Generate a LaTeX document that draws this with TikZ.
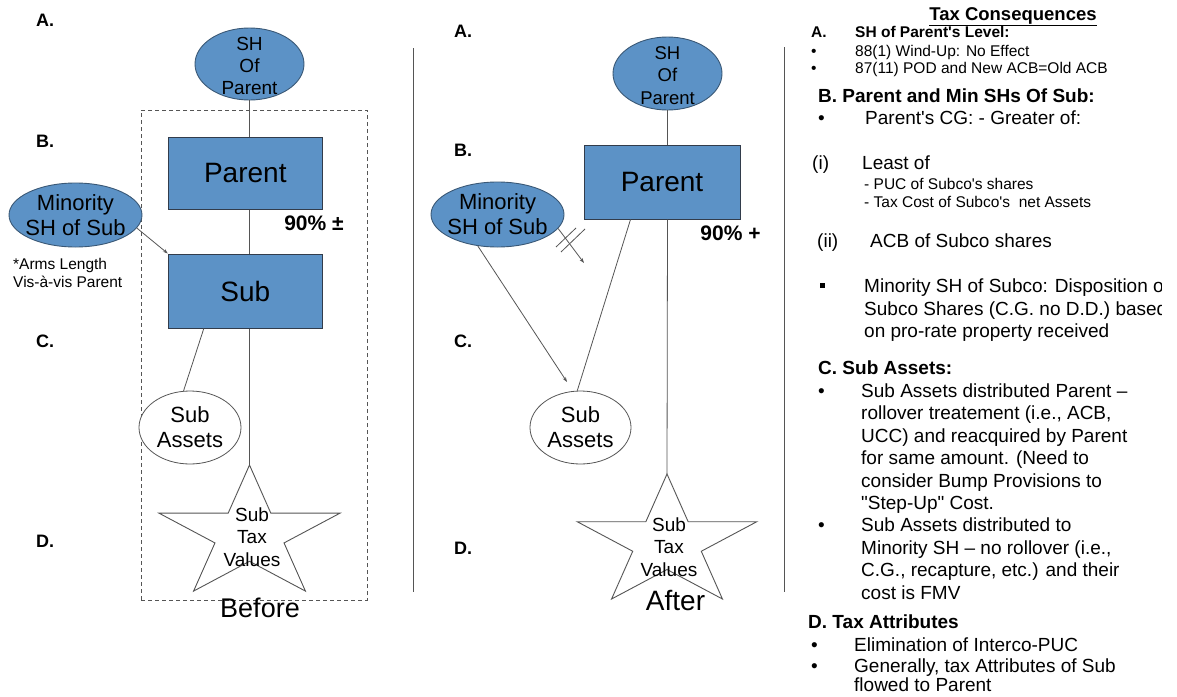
\documentclass[tikz,border=0pt]{standalone}
\usepackage{fontspec}
\setmainfont{Liberation Sans}[Ligatures=TeXOff]
\usetikzlibrary{shapes.geometric,arrows.meta,calc}
\definecolor{boxblue}{RGB}{92,146,198}
\definecolor{ellline}{RGB}{58,88,118}
\definecolor{boxline}{RGB}{50,60,75}
\definecolor{conline}{RGB}{85,85,85}
\newcommand\myfs[2]{\fontsize{#1}{#2}\selectfont}
\begin{document}
\begin{tikzpicture}[x=1pt,y=-1pt,
 blueell/.style={ellipse, draw=ellline, line width=0.9pt, fill=boxblue, inner sep=0pt},
 bluebox/.style={rectangle, draw=boxline, line width=1pt, fill=boxblue, inner sep=0pt, font=\myfs{28}{32}},
 whiteell/.style={ellipse, draw=conline, line width=0.8pt, fill=white, inner sep=0pt},
 etext/.style={inner sep=0pt, align=center},
 con/.style={draw=conline, line width=0.8pt},
 arr/.style={con, -{Stealth[length=5pt,width=3.5pt]}},
 lab/.style={font=\bfseries\myfs{18}{20}, anchor=base west, inner sep=0pt},
 hb/.style={font=\bfseries\myfs{19}{22}, anchor=base west, inner sep=0pt},
 tx/.style={font=\myfs{19}{22}, anchor=base west, inner sep=0pt},
 smb/.style={font=\bfseries\myfs{15.5}{18}, anchor=base west, inner sep=0pt},
 sm/.style={font=\myfs{15.5}{18}, anchor=base west, inner sep=0pt},
 startext/.style={inner sep=0pt, align=center, font=\myfs{19}{22.5}},
 pct/.style={font=\bfseries\myfs{21}{24}, inner sep=0pt},
 sqbullet/.style={fill=black, minimum size=5pt, inner sep=0pt},
]
\useasboundingbox[fill=white] (0,0) rectangle (1177,696);

% ---------- separators ----------
\draw[con] (413,48) -- (413,592);
\draw[con] (784,47) -- (784,592);

% ---------- BEFORE ----------
\node[lab] (la) at (36,27) {A.};
\node[lab] (lb) at (36,147) {B.};
\node[lab] (lc) at (36,347) {C.};
\node[lab] (ld) at (36,547) {D.};

\node[draw=conline, line width=0.8pt, dash pattern=on 4pt off 3pt, minimum width=226pt, minimum height=490pt, inner sep=0pt] (frame) at (254,355) {};

\node[blueell, minimum width=109pt, minimum height=72pt] (lsh) at (249.5,64) {};
\node[etext, font=\myfs{19}{22}] (lsht) at (249.5,66) {SH\\Of\\Parent};

\node[bluebox, minimum width=154pt, minimum height=72pt] (lpar) at (245.3,173) {Parent};
\node[bluebox, minimum width=154pt, minimum height=74pt] (lsub) at (245.3,291) {Sub};

\node[blueell, minimum width=133pt, minimum height=64pt] (lmin) at (75.5,215) {};
\node[etext, font=\myfs{22}{25}] (lmint) at (lmin) {Minority\\SH of Sub};

\node[pct] (lpct) at (314,223) {90\% ±};

\node[inner sep=0pt, anchor=base west, font=\myfs{15.5}{18}] (larm1) at (13,269.5) {*Arms Length};
\node[inner sep=0pt, anchor=base west, font=\myfs{15.5}{18}] (larm2) at (13,287) {Vis-à-vis Parent};

\node[whiteell, minimum width=102pt, minimum height=73pt] (lassets) at (190,427.5) {};
\node[etext, font=\myfs{22}{25}] (lassetst) at (lassets) {Sub\\Assets};

\draw[con, line width=0.9pt, shift={(249.5,534.7)}, xscale=1.365]
  (-90:69.7) -- (-54:26.6) -- (-18:69.7) -- (18:26.6) -- (54:69.7) -- (90:26.6)
  -- (126:69.7) -- (162:26.6) -- (198:69.7) -- (234:26.6) -- cycle;
\coordinate (lstartop) at (249.5,465);
\node[startext] (lstar) at (252,537) {Sub\\Tax\\Values};

\node[inner sep=0pt, font=\myfs{27}{30}] (before) at (260,608) {Before};

\draw[con] (lsh.south) -- (lsh.south |- lpar.north);
\draw[con] (lsh.south |- lpar.south) -- (lsh.south |- lsub.north);
\draw[con] (lsh.south |- lsub.south) -- (lstartop);
\draw[con] ([xshift=36pt]lsub.south west) -- (lassets.100);
\draw[arr] (lmin.-12) -- (lsub.north west);

% ---------- AFTER ----------
\node[lab] (ra) at (454,37) {A.};
\node[lab] (rb) at (454,156) {B.};
\node[lab] (rc) at (454,347) {C.};
\node[lab] (rd) at (454,554) {D.};

\node[blueell, minimum width=109pt, minimum height=73pt] (rsh) at (667.5,73.5) {};
\node[etext, font=\myfs{18.5}{22.5}] (rsht) at (667.5,75.5) {SH\\Of\\Parent};

\node[bluebox, minimum width=156pt, minimum height=74pt] (rpar) at (662,182) {Parent};

\node[blueell, minimum width=133pt, minimum height=65pt] (rmin) at (497.5,214.5) {};
\node[etext, font=\myfs{22}{25}] (rmint) at (rmin) {Minority\\SH of Sub};

\node[pct] (rpct) at (730.5,233) {90\% +};

\node[whiteell, minimum width=101pt, minimum height=73pt] (rassets) at (580.5,427.5) {};
\node[etext, font=\myfs{22}{25}] (rassetst) at (rassets) {Sub\\Assets};

\draw[con, line width=0.9pt, shift={(667,543.1)}, xscale=1.365]
  (-90:69.1) -- (-54:26.4) -- (-18:69.1) -- (18:26.4) -- (54:69.1) -- (90:26.4)
  -- (126:69.1) -- (162:26.4) -- (198:69.1) -- (234:26.4) -- cycle;
\coordinate (rstartop) at (667,474);
\node[startext] (rstar) at (669,547) {Sub\\Tax\\Values};

\node[inner sep=0pt, font=\myfs{28}{30}] (after) at (675.5,600) {After};

\draw[con] (rsh.south) -- (rsh.south |- rpar.north);
\draw[con] (rsh.south |- rpar.south) -- (rstartop);
\draw[con] ([xshift=47pt]rpar.south west) -- (rassets.95);
\coordinate (ra1) at (567,382);
\draw[arr] (rmin.-122) -- (ra1);
\coordinate (ra2) at (584,263);
\draw[arr] (rmin.-13) -- (ra2);
\draw[con] (556,247) -- (576,228);
\draw[con] (561,252) -- (585,229);

% ---------- TAX CONSEQUENCES ----------
\begin{scope}
\clip (0,0) rectangle (1161,696);
\node[font=\bfseries\myfs{18.5}{20}, anchor=base, inner sep=0pt] (tc) at (1013,20) {\underline{Tax Consequences}};

\node[smb] (t1) at (811,37) {A.};
\node[smb] (t2) at (855,37) {SH of Parent's Level:};
\node[sm] (t3) at (811,56) {•};
\node[sm] (t4) at (855,56) {88(1) Wind-Up: No Effect};
\node[sm] (t5) at (811,73) {•};
\node[sm] (t6) at (855,73) {87(11) POD and New ACB=Old ACB};

\node[hb] (t7) at (818,102) {B. Parent and Min SHs Of Sub:};
\node[tx] (t8) at (818,124) {•};
\node[tx] (t9) at (865,124) {Parent's CG: - Greater of:};
\node[tx] (t10) at (812,169) {(i)};
\node[tx] (t11) at (862,169) {Least of};
\node[sm] (t12) at (864,189) {- PUC of Subco's shares};
\node[sm] (t13) at (864,207) {- Tax Cost of Subco's\ \ net Assets};
\node[tx] (t14) at (817,247) {(ii)};
\node[tx] (t15) at (870,247) {ACB of Subco shares};
\node[sqbullet] (t16) at (822,285) {};
\node[tx] (t17) at (864,292) {Minority SH of Subco: Disposition of};
\node[tx] (t18) at (864,315) {Subco Shares (C.G. no D.D.) based};
\node[tx] (t19) at (864,337) {on pro-rate property received};

\node[hb] (t20) at (818,374) {C. Sub Assets:};
\node[tx] (t21) at (818,397) {•};
\node[tx] (t22) at (861,397) {Sub Assets distributed Parent –};
\node[tx] (t23) at (861,419.5) {rollover treatement (i.e., ACB,};
\node[tx] (t24) at (861,442) {UCC) and reacquired by Parent};
\node[tx] (t25) at (861,464.5) {for same amount. (Need to};
\node[tx] (t26) at (861,487) {consider Bump Provisions to};
\node[tx] (t27) at (861,509.5) {"Step-Up" Cost.};
\node[tx] (t28) at (818,531.5) {•};
\node[tx] (t29) at (861,531.5) {Sub Assets distributed to};
\node[tx] (t30) at (861,554) {Minority SH – no rollover (i.e.,};
\node[tx] (t31) at (861,576.5) {C.G., recapture, etc.) and their};
\node[tx] (t32) at (861,599) {cost is FMV};

\node[hb] (t33) at (808,628) {D. Tax Attributes};
\node[tx] (t34) at (811,651) {•};
\node[tx] (t35) at (854,651) {Elimination of Interco-PUC};
\node[tx] (t36) at (811,672) {•};
\node[tx] (t37) at (854,672) {Generally, tax Attributes of Sub};
\node[tx] (t38) at (854,691) {flowed to Parent};
\end{scope}
\end{tikzpicture}
\end{document}
